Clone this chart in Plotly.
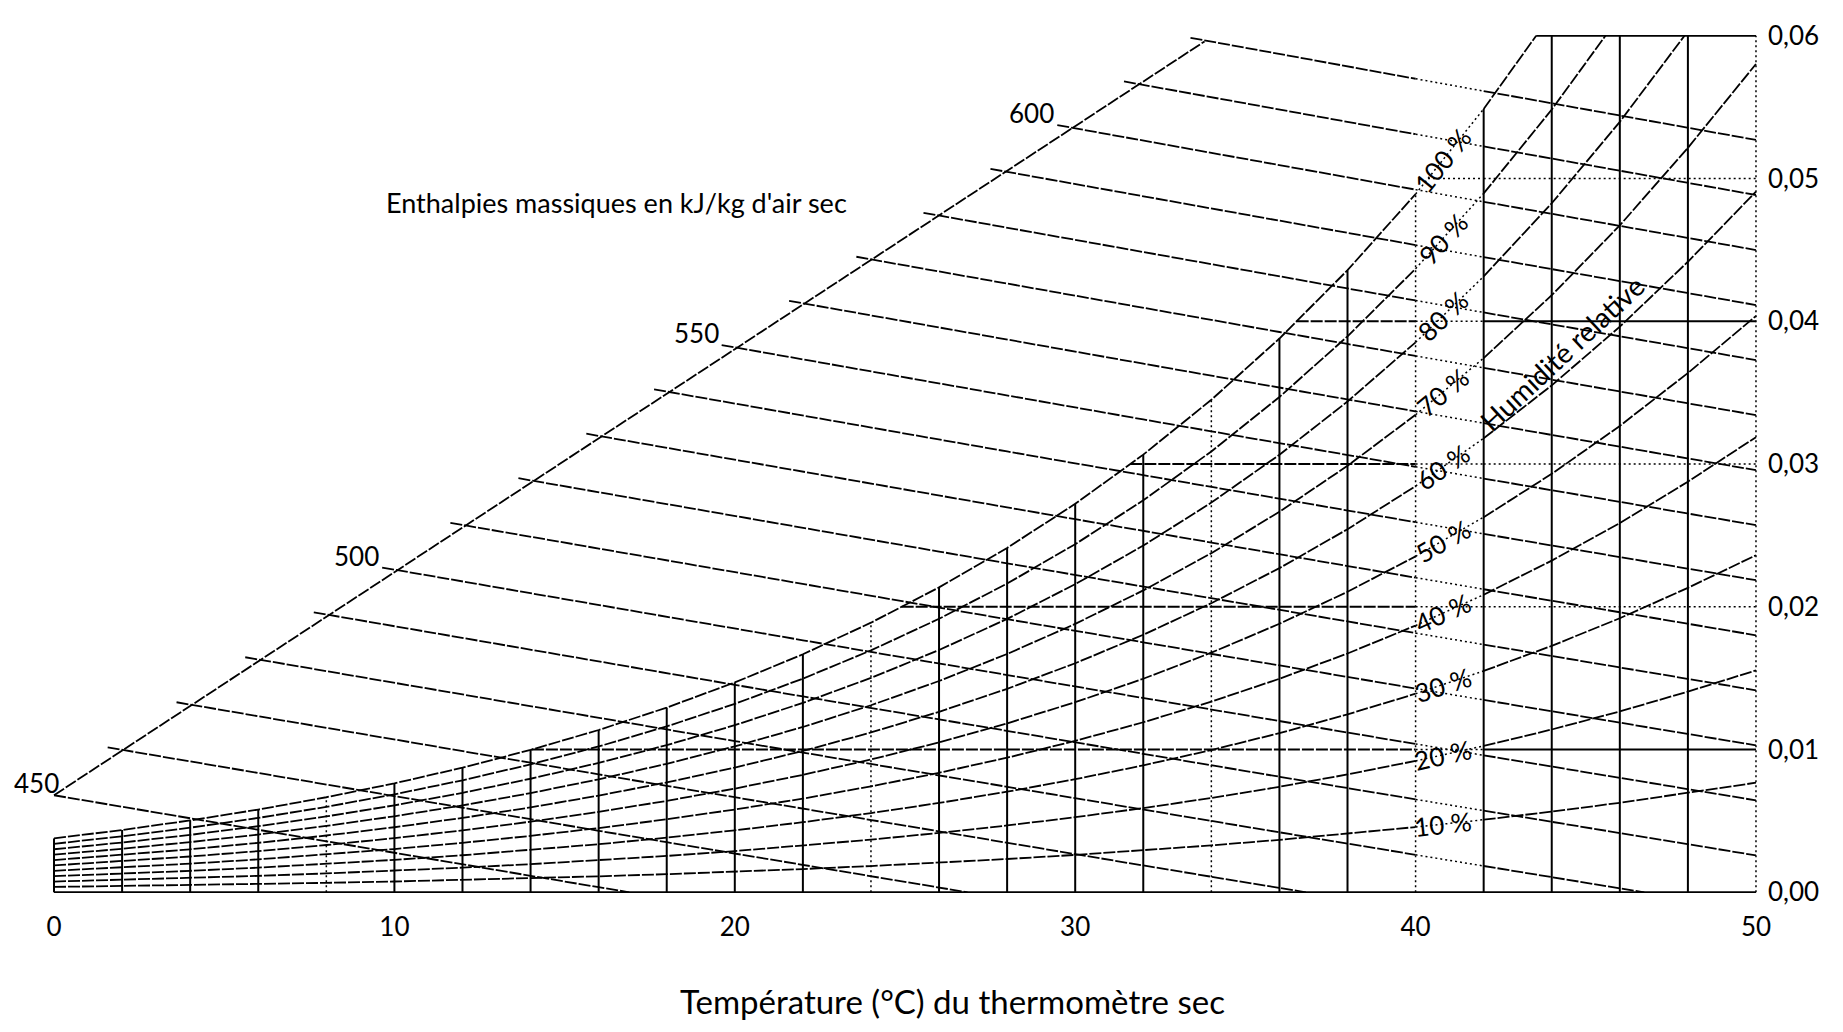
import math
import numpy as np
import plotly.graph_objects as go

# ---------------- data ----------------
T_GRID = [0, 2, 4, 6, 8, 10, 12, 14, 16, 18, 20, 22, 24, 26, 28, 30,
          32, 34, 36, 38, 40, 42, 44, 46, 48, 50]
# saturation vapour pressure (kPa) at each grid temperature
PSAT_KPA = [0.6112, 0.7060, 0.8135, 0.9353, 1.0729, 1.2281, 1.4027, 1.5989,
            1.8187, 2.0647, 2.3392, 2.6452, 2.9856, 3.3637, 3.7828, 4.2467,
            4.7592, 5.3247, 5.9479, 6.6336, 7.3870, 8.2140, 9.1201, 10.1121,
            11.1963, 12.3503]
P_ATM = 101.325
RH_LEVELS = [10, 20, 30, 40, 50, 60, 70, 80, 90, 100]
ENTHALPY_LABELS = [450, 460, 470, 480, 490, 500, 510, 520, 530, 540,
                   550, 560, 570, 580, 590, 600, 610, 620]
ENTHALPY_LABELED = [450, 500, 550, 600]
ENTHALPY_OFFSET = 433.0
DIAG_T = [0.0, 33.8]
DIAG_W = [0.0068, 0.0596]
W_LINES = [0.01, 0.02, 0.03, 0.04, 0.05]
W_LINE_RIGHT_STYLE = ["solid", "dot", "dot", "solid", "dot"]
W_TICKS = [0.00, 0.01, 0.02, 0.03, 0.04, 0.05, 0.06]
W_TICKTEXT = ["0,00", "0,01", "0,02", "0,03", "0,04", "0,05", "0,06"]
X_TICKS = [0, 10, 20, 30, 40, 50]
DOTTED_T = [8, 24, 34, 40, 50]
W_TOP = 0.06
BAND = (40, 42)
LABEL_T = 40.8
TICK_DT = 0.45

# ---------------- layout geometry ----------------
# the page body adds an 8px margin, so the figure is sized to fit inside it
BODY = 8
W_PX, H_PX = 1843 - 2 * BODY, 1032 - 2 * BODY
PLOT_L, PLOT_R, PLOT_T, PLOT_B = 53, 1757, 35, 893   # target pixels in the window
M_L = PLOT_L - BODY
M_T = PLOT_T - BODY
M_R = W_PX - (PLOT_R - BODY)
M_B = H_PX - (PLOT_B - BODY)
X_RANGE = [-0.03, 50.03]
Y_RANGE = [-0.00005, 0.06005]
PX_T = (PLOT_R - PLOT_L) / (X_RANGE[1] - X_RANGE[0])
PX_W = (PLOT_B - PLOT_T) / (Y_RANGE[1] - Y_RANGE[0])
FONT = "Lato, 'Open Sans', sans-serif"


def px_to_paper(xp, yp):
    return ((xp - PLOT_L) / (PLOT_R - PLOT_L), (PLOT_B - yp) / (PLOT_B - PLOT_T))


def w_of(phi, ps):
    return 0.622 * phi * ps / (P_ATM - phi * ps)


def w_h(h, T):
    return (h - 1.006 * T) / (2501.0 + 1.86 * T)


WS = [w_of(1.0, p) for p in PSAT_KPA]

segs = {"solid": ([], []), "dash": ([], []), "dot": ([], [])}


def add(style, xs, ys):
    sx, sy = segs[style]
    sx.extend(list(xs) + [None])
    sy.extend(list(ys) + [None])


def band_of(t0, t1):
    m = 0.5 * (t0 + t1)
    if m < BAND[0]:
        return "a"
    if m < BAND[1]:
        return "b"
    return "c"


def add_split(xs, ys, out_style="dash", right_style=None):
    right_style = right_style or out_style
    smap = {"a": out_style, "b": "dot", "c": right_style}
    cur = None
    bx, by = [], []
    for i in range(len(xs) - 1):
        b = band_of(xs[i], xs[i + 1])
        if b != cur:
            if cur is not None:
                add(smap[cur], bx, by)
            cur = b
            bx, by = [xs[i]], [ys[i]]
        bx.append(xs[i + 1])
        by.append(ys[i + 1])
    if cur is not None:
        add(smap[cur], bx, by)


# relative humidity curves
rh_curves = {}
for rh in RH_LEVELS:
    phi = rh / 100.0
    ws = [w_of(phi, p) for p in PSAT_KPA]
    xs, ys = [T_GRID[0]], [ws[0]]
    for i in range(1, len(T_GRID)):
        if ws[i] > W_TOP:
            f = (W_TOP - ws[i - 1]) / (ws[i] - ws[i - 1])
            xs.append(T_GRID[i - 1] + f * (T_GRID[i] - T_GRID[i - 1]))
            ys.append(W_TOP)
            break
        xs.append(T_GRID[i])
        ys.append(ws[i])
    rh_curves[rh] = (xs, ys)
    add_split(xs, ys)

# top horizontal (0.06) from saturation to 50
t_sat_top = rh_curves[100][0][-1]
add("solid", [t_sat_top, 50], [W_TOP, W_TOP])
# bottom line
add("solid", [0, 50], [0, 0])

# vertical dry-bulb lines
for T, w in zip(T_GRID, WS):
    top = min(w, W_TOP)
    add("dot" if T in DOTTED_T else "solid", [T, T], [0, top])

# horizontal humidity-ratio lines
for wl, rstyle in zip(W_LINES, W_LINE_RIGHT_STYLE):
    t0 = None
    for i in range(len(WS) - 1):
        if WS[i] <= wl < WS[i + 1]:
            t0 = T_GRID[i] + (wl - WS[i]) / (WS[i + 1] - WS[i]) * (T_GRID[i + 1] - T_GRID[i])
            break
    pts = sorted(set([t0, 50] + [b for b in BAND if b > t0]))
    add_split(pts, [wl] * len(pts), right_style=rstyle)

# enthalpy diagonal scale line
add("dash", DIAG_T, DIAG_W)
k = (DIAG_W[1] - DIAG_W[0]) / (DIAG_T[1] - DIAG_T[0])
w0 = DIAG_W[0]

ann = []
for lab in ENTHALPY_LABELS:
    h = lab - ENTHALPY_OFFSET
    a = 1.86 * k
    b = 1.006 + 2501 * k + 1.86 * w0
    c = 2501 * w0 - h
    ts = (-b + math.sqrt(b * b - 4 * a * c)) / (2 * a)
    ts = max(ts, 0.0)
    t_tick = max(ts - TICK_DT, 0.0)
    t_end = min(50.0, h / 1.006)
    pts = [t_tick, ts, t_end] + [t for t in T_GRID if t_tick < t < t_end] + \
          [bb for bb in BAND if t_tick < bb < t_end]
    pts = sorted(set(pts))
    ys = [max(w_h(h, t), 0.0) for t in pts]
    add_split(pts, ys)
    if lab in ENTHALPY_LABELED:
        ann.append(dict(x=t_tick, y=w_h(h, t_tick), text=str(lab), showarrow=False,
                        xanchor="right", yanchor="bottom",
                        xshift=7 if t_tick == 0.0 else -1, yshift=-6,
                        font=dict(size=26, color="black", family=FONT)))

# relative humidity labels
for rh in RH_LEVELS:
    xs, ys = rh_curves[rh]
    i40 = xs.index(BAND[0])
    i42 = xs.index(BAND[1])
    y_lab = float(np.interp(LABEL_T, [xs[i40], xs[i42]], [ys[i40], ys[i42]]))
    slope = (ys[i42] - ys[i40]) / (xs[i42] - xs[i40])
    ang = math.degrees(math.atan(slope * PX_W / PX_T))
    ann.append(dict(x=LABEL_T, y=y_lab, text=f"{rh} %", showarrow=False,
                    textangle=-ang, xanchor="center", yanchor="middle",
                    font=dict(size=26, color="black", family=FONT)))

# titles
px, py = px_to_paper(952, 1001)
ann.append(dict(xref="paper", yref="paper", x=px, y=py,
                text="Température (°C) du thermomètre sec", showarrow=False,
                xanchor="center", yanchor="middle",
                font=dict(size=33, color="black", family=FONT)))
px, py = px_to_paper(616, 202)
ann.append(dict(xref="paper", yref="paper", x=px, y=py,
                text="Enthalpies massiques en kJ/kg d'air sec", showarrow=False,
                xanchor="center", yanchor="middle",
                font=dict(size=27, color="black", family=FONT)))
px, py = px_to_paper(1562, 353)
ann.append(dict(xref="paper", yref="paper", x=px, y=py,
                text="Humidité relative", showarrow=False, textangle=-43,
                xanchor="center", yanchor="middle",
                font=dict(size=28, color="black", family=FONT)))

fig = go.Figure()
styles = {
    "solid": dict(width=2.0, dash="solid"),
    "dash": dict(width=1.8, dash="12px,2px"),
    "dot": dict(width=1.5, dash="2px,3px"),
}
for key in ["dot", "dash", "solid"]:
    xs, ys = segs[key]
    fig.add_trace(go.Scatter(x=xs, y=ys, mode="lines", connectgaps=False,
                             line=dict(color="black", **styles[key]),
                             hoverinfo="skip", showlegend=False))

fig.update_layout(
    width=W_PX, height=H_PX,
    autosize=False,
    margin=dict(l=M_L, r=M_R, t=M_T, b=M_B, autoexpand=False),
    paper_bgcolor="white", plot_bgcolor="white",
    font=dict(family=FONT, color="black"),
    showlegend=False,
    annotations=ann,
    xaxis=dict(range=X_RANGE, tickvals=X_TICKS, ticktext=[str(v) for v in X_TICKS],
               showgrid=False, zeroline=False, showline=False, ticks="",
               ticklabelstandoff=16, tickfont=dict(size=26, color="black", family=FONT)),
    yaxis=dict(range=Y_RANGE, side="right", tickvals=W_TICKS, ticktext=W_TICKTEXT,
               showgrid=False, zeroline=False, showline=False, ticks="",
               ticklabelstandoff=10, tickfont=dict(size=26, color="black", family=FONT)),
)

fig.write_html("out.html")
